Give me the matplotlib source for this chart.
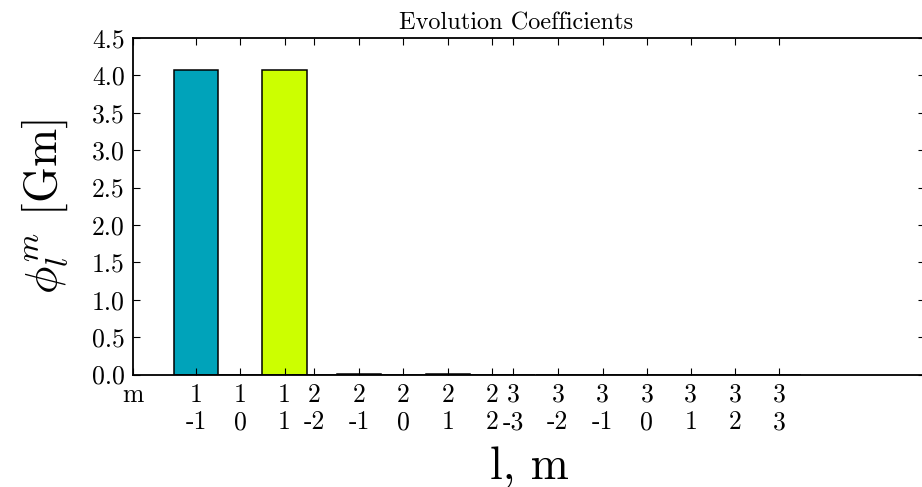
import matplotlib
matplotlib.use('Agg')
import matplotlib.pyplot as plt

plt.rcParams['font.family'] = 'cmr10'
plt.rcParams['mathtext.fontset'] = 'cm'
plt.rcParams['axes.unicode_minus'] = False
plt.rcParams['axes.formatter.use_mathtext'] = True

# spherical harmonic indices and coefficient values
l_vals = [1, 1, 1, 2, 2, 2, 2, 2, 3, 3, 3, 3, 3, 3, 3]
m_vals = [-1, 0, 1, -2, -1, 0, 1, 2, -3, -2, -1, 0, 1, 2, 3]
phi = [4.07, 0.0, 4.07, 0.0, 0.01, 0.0, 0.01, 0.0, 0.0, 0.0, 0.0, 0.0, 0.0, 0.0, 0.0]

# bar positions along the axis
positions = [0, 1, 2, 2.67, 3.68, 4.68, 5.69, 6.68, 7.16, 8.17, 9.18, 10.18, 11.17, 12.17, 13.16]
colors = ['#00a3ba', '#ffffff', '#ccff00', '#ffffff', '#2a2a9e', '#ffffff', '#8b1e1e',
          '#ffffff', '#ffffff', '#ffffff', '#ffffff', '#ffffff', '#ffffff', '#ffffff', '#ffffff']

fig = plt.figure(figsize=(9.22, 4.87), dpi=100)
ax = fig.add_axes([0.1443, 0.231, 0.859, 0.691])

ax.bar(positions, phi, width=1.0, color=colors, edgecolor='black', linewidth=1.1)

xmin, xmax = -1.42, 16.46
ax.set_xlim(xmin, xmax)
ax.set_ylim(0, 4.5)

ax.set_xticks([xmin] + positions)
ax.set_xticklabels(['m\n'] + [f'{l}\n{m}' for l, m in zip(l_vals, m_vals)])
ax.set_yticks([i * 0.5 for i in range(10)])
ax.set_yticklabels([f'{i * 0.5:.1f}' for i in range(10)])

ax.tick_params(direction='in', top=True, right=True, length=5, width=0.8,
               labelsize=18.5, pad=6)
for s in ax.spines.values():
    s.set_linewidth(1.3)

ax.set_title('Evolution Coefficients', fontsize=17.5, pad=6, x=0.484)
ax.set_xlabel('l, m', fontsize=33, labelpad=9)
ax.set_ylabel(r'$\phi_l^m$ [Gm]', fontsize=33, labelpad=16)

fig.savefig('out.png', dpi=100)
